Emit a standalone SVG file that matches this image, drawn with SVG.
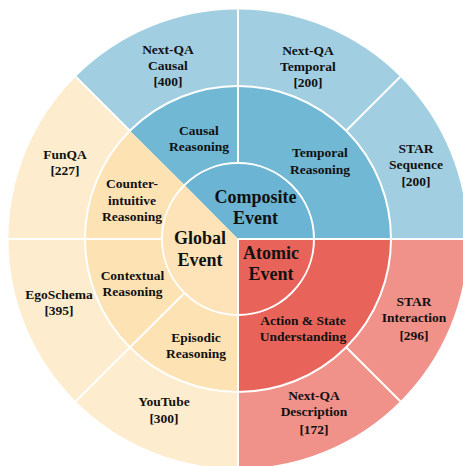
<svg xmlns="http://www.w3.org/2000/svg" width="463" height="466" viewBox="0 0 463 466">
<style>
.lbl{font-family:"Liberation Serif","Times New Roman",serif;font-weight:bold;font-size:13.5px;fill:#111;text-anchor:middle}
.big{font-family:"Liberation Serif","Times New Roman",serif;font-weight:bold;font-size:18px;fill:#111;text-anchor:middle}
.ob{fill:#a1cfe1}.mb{fill:#70b8d4}.ib{fill:#6bb4d3}
.oy{fill:#fdecce}.my{fill:#fde2b4}.iy{fill:#fde3b7}
.or{fill:#f09289}.mr{fill:#e8635a}.ir{fill:#e8635a}
.div{stroke:#fff;stroke-width:2;fill:none}
</style>
<rect width="463" height="466" fill="#fff"/>
<g id="ring-outer">
<g id="nextqa-causal"><path class="ob" d="M238,9.5 A229.5,229.5 0 0 0 75.72,76.72 L129.81,130.81 A153,153 0 0 1 238,86 Z"/>
<text class="lbl"><tspan x="168" y="53.5">Next-QA</tspan><tspan x="168" y="69.5">Causal</tspan><tspan x="168" y="85.5">[400]</tspan></text></g>
<g id="nextqa-temporal"><path class="ob" d="M400.28,76.72 A229.5,229.5 0 0 0 238,9.5 L238,86 A153,153 0 0 1 346.19,130.81 Z"/>
<text class="lbl"><tspan x="308" y="54.5">Next-QA</tspan><tspan x="308" y="70.5">Temporal</tspan><tspan x="308" y="86.5">[200]</tspan></text></g>
<g id="star-sequence"><path class="ob" d="M467.5,239 A229.5,229.5 0 0 0 400.28,76.72 L346.19,130.81 A153,153 0 0 1 391,239 Z"/>
<text class="lbl"><tspan x="416" y="152.5">STAR</tspan><tspan x="416" y="169">Sequence</tspan><tspan x="416" y="186">[200]</tspan></text></g>
<g id="star-interaction"><path class="or" d="M400.28,401.28 A229.5,229.5 0 0 0 467.5,239 L391,239 A153,153 0 0 1 346.19,347.19 Z"/>
<text class="lbl"><tspan x="414" y="306">STAR</tspan><tspan x="414" y="322">Interaction</tspan><tspan x="414" y="340">[296]</tspan></text></g>
<g id="nextqa-description"><path class="or" d="M238,468.5 A229.5,229.5 0 0 0 400.28,401.28 L346.19,347.19 A153,153 0 0 1 238,392 Z"/>
<text class="lbl"><tspan x="314" y="400">Next-QA</tspan><tspan x="314" y="416">Description</tspan><tspan x="314" y="434">[172]</tspan></text></g>
<g id="youtube"><path class="oy" d="M75.72,401.28 A229.5,229.5 0 0 0 238,468.5 L238,392 A153,153 0 0 1 129.81,347.19 Z"/>
<text class="lbl"><tspan x="164" y="406">YouTube</tspan><tspan x="164" y="422.5">[300]</tspan></text></g>
<g id="egoschema"><path class="oy" d="M8.5,239 A229.5,229.5 0 0 0 75.72,401.28 L129.81,347.19 A153,153 0 0 1 85,239 Z"/>
<text class="lbl"><tspan x="59" y="298.5">EgoSchema</tspan><tspan x="59" y="315">[395]</tspan></text></g>
<g id="funqa"><path class="oy" d="M75.72,76.72 A229.5,229.5 0 0 0 8.5,239 L85,239 A153,153 0 0 1 129.81,130.81 Z"/>
<text class="lbl"><tspan x="65" y="158.5">FunQA</tspan><tspan x="65" y="175">[227]</tspan></text></g>
</g>
<g id="ring-middle">
<g id="causal-reasoning"><path class="mb" d="M238,86 A153,153 0 0 0 129.81,130.81 L184.26,184.74 A76,76 0 0 1 238,163 Z"/>
<text class="lbl"><tspan x="199" y="134.5">Causal</tspan><tspan x="199" y="150.5">Reasoning</tspan></text></g>
<g id="temporal-reasoning"><path class="mb" d="M391,239 A153,153 0 0 0 238,86 L238,163 A76,76 0 0 1 314,239 Z"/>
<text class="lbl"><tspan x="320" y="157">Temporal</tspan><tspan x="320" y="173.5">Reasoning</tspan></text></g>
<g id="action-state"><path class="mr" d="M238,392 A153,153 0 0 0 391,239 L314,239 A76,76 0 0 1 238,315 Z"/>
<text class="lbl"><tspan x="303" y="325">Action &amp; State</tspan><tspan x="303" y="341">Understanding</tspan></text></g>
<g id="counter-intuitive"><path class="my" d="M129.81,130.81 A153,153 0 0 0 85,239 L162,239 A76,76 0 0 1 184.26,184.74 Z"/>
<text class="lbl"><tspan x="132" y="188">Counter-</tspan><tspan x="132" y="204.5">intuitive</tspan><tspan x="132" y="221">Reasoning</tspan></text></g>
<g id="contextual"><path class="my" d="M85,239 A153,153 0 0 0 129.81,347.19 L184.26,293.26 A76,76 0 0 1 162,239 Z"/>
<text class="lbl"><tspan x="132.5" y="280">Contextual</tspan><tspan x="132.5" y="296">Reasoning</tspan></text></g>
<g id="episodic"><path class="my" d="M129.81,347.19 A153,153 0 0 0 238,392 L238,315 A76,76 0 0 1 184.26,293.26 Z"/>
<text class="lbl"><tspan x="196" y="341.5">Episodic</tspan><tspan x="196" y="357.5">Reasoning</tspan></text></g>
</g>
<g id="ring-inner">
<g id="composite-event"><path class="ib" d="M238,239 L314,239 A76,76 0 0 0 184.26,184.74 Z"/>
<text class="big"><tspan x="255.5" y="202.5">Composite</tspan><tspan x="255.5" y="224">Event</tspan></text></g>
<g id="global-event"><path class="iy" d="M238,239 L184.26,184.74 A76,76 0 0 0 238,315 Z"/>
<text class="big"><tspan x="200" y="244">Global</tspan><tspan x="200" y="266">Event</tspan></text></g>
<g id="atomic-event"><path class="ir" d="M238,239 L238,315 A76,76 0 0 0 314,239 Z"/>
<text class="big"><tspan x="271" y="259">Atomic</tspan><tspan x="271" y="280">Event</tspan></text></g>
</g>
<g id="connectors">
<circle class="div" cx="238" cy="239" r="76"/>
<circle class="div" cx="238" cy="239" r="153"/>
<path class="div" d="M238,239 H467.5 M238,239 V468.5 M238,163 V9.5 M162,239 H8.5 M184.26,293.26 L75.72,401.28 M346.19,130.81 L400.28,76.72 M129.81,130.81 L75.72,76.72 M346.19,347.19 L400.28,401.28"/>
</g>
</svg>
